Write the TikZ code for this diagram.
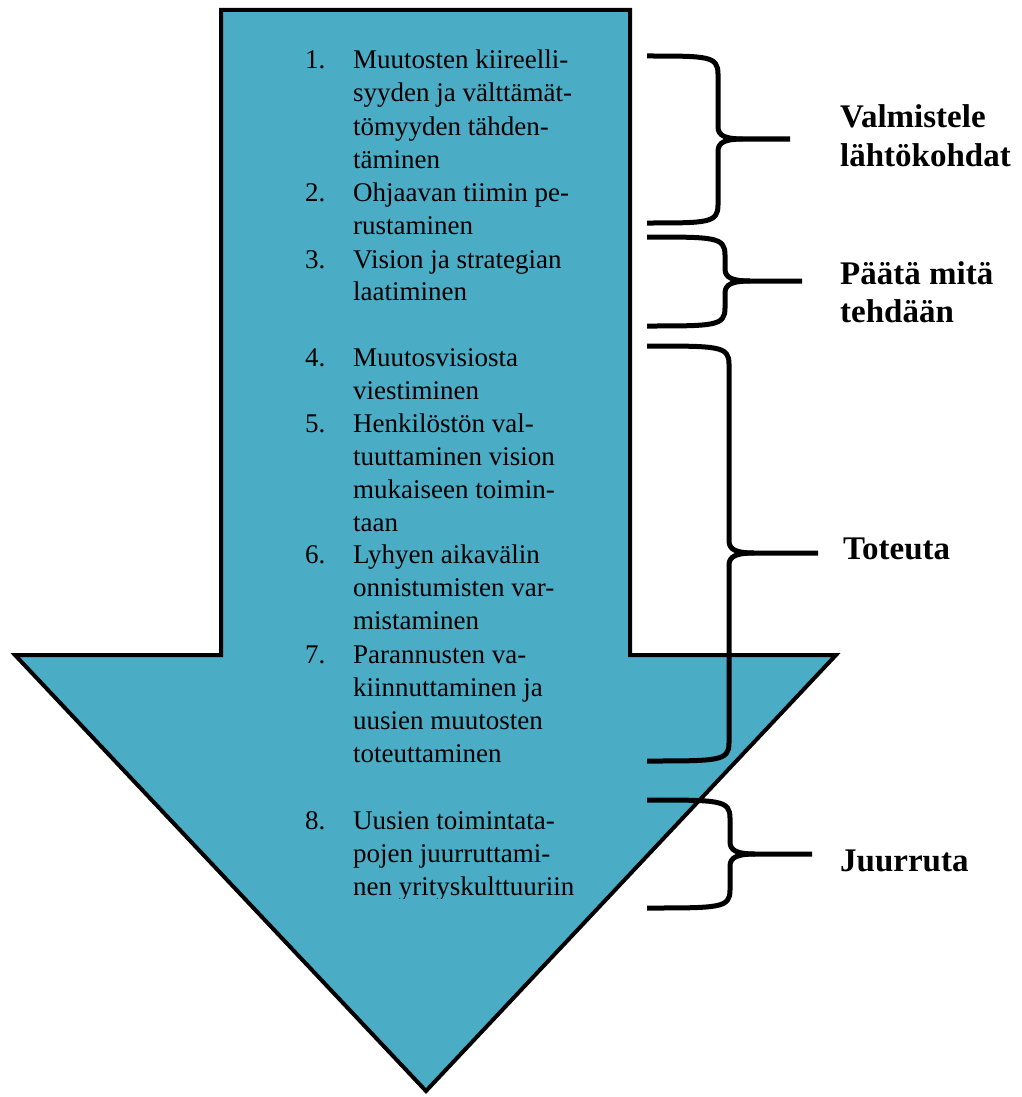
\documentclass[tikz,border=0pt]{standalone}
\usepackage{fontspec}
\setmainfont{Liberation Serif}
\definecolor{arrowfill}{HTML}{4BACC6}
\tikzset{
  bigarrow/.style={draw=black, line width=4pt, fill=arrowfill, line join=miter},
  txt/.style={anchor=base west, inner sep=0pt, font=\fontsize{27}{33}\selectfont},
  lbl/.style={anchor=base west, inner sep=0pt, font=\fontsize{33}{38}\selectfont\bfseries},
  brace/.style={draw=black, line width=5pt, line cap=butt, line join=round}
}
\begin{document}
\begin{tikzpicture}[x=1pt,y=-1pt]
\useasboundingbox (0,0) rectangle (1022,1097);
% arrow
\draw[bigarrow] (221,10) -- (630,10) -- (630,655) -- (836,655) -- (426,1091) -- (15,655) -- (221,655) -- cycle;
% numbers
\foreach \yy/\nn [count=\i] in {69/1., 201.5/2., 268/3., 366.5/4., 432.5/5., 563.5/6., 663.5/7., 829.5/8.}
  \node[txt] (n\i) at (305,\yy) {\nn};
% text lines
\foreach \yy/\tt [count=\i] in {69/Muutosten kiireelli-, 102/syyden ja välttämät-, 135.5/tömyyden tähden-, 168/täminen,
  201.5/Ohjaavan tiimin pe-, 234.5/rustaminen, 268/Vision ja strategian, 300.5/laatiminen,
  366.5/Muutosvisiosta, 399.5/viestiminen, 432.5/Henkilöstön val-, 465.5/tuuttaminen vision,
  498/mukaiseen toimin-, 531/taan, 563.5/Lyhyen aikavälin, 596.5/onnistumisten var-, 629.5/mistaminen,
  663.5/Parannusten va-, 696.5/kiinnuttaminen ja, 729.5/uusien muutosten, 762.5/toteuttaminen}
  \node[txt] (l\i) at (353,\yy) {\tt};
\begin{scope}
\clip (340,790) rectangle (640,898.5);
\foreach \yy/\tt [count=\i from 22] in {829.5/Uusien toimintata-, 862.5/pojen juurruttami-, 895.5/nen yrityskulttuuriin}
  \node[txt] (l\i) at (353,\yy) {\tt};
\end{scope}
% braces
\coordinate (b1t) at (647,56);  \coordinate (b1b) at (647,223); \coordinate (b1m) at (790,139);
\coordinate (b2t) at (647,237); \coordinate (b2b) at (647,326); \coordinate (b2m) at (802,281);
\coordinate (b3t) at (647,346); \coordinate (b3b) at (647,761); \coordinate (b3m) at (818,553);
\coordinate (b4t) at (647,800); \coordinate (b4b) at (647,908); \coordinate (b4m) at (812,854);
\foreach \b/\xv in {b1/718, b2/725, b3/729, b4/730}{
  \draw[brace] (\b t) .. controls (\xv-10,0 |- \b t) and (\xv,0 |- \b t) .. ([yshift=-18pt]\xv,0 |- \b t)
    -- ([yshift=12pt]\xv,0 |- \b m) .. controls ([yshift=3pt]\xv,0 |- \b m) and ([xshift=8pt]\xv,0 |- \b m) .. ([xshift=25pt]\xv,0 |- \b m)
    -- (\b m);
  \draw[brace] (\b b) .. controls (\xv-10,0 |- \b b) and (\xv,0 |- \b b) .. ([yshift=18pt]\xv,0 |- \b b)
    -- ([yshift=-12pt]\xv,0 |- \b m) .. controls ([yshift=-3pt]\xv,0 |- \b m) and ([xshift=8pt]\xv,0 |- \b m) .. ([xshift=25pt]\xv,0 |- \b m);
}
% labels
\node[lbl] (v1) at (840,128) {Valmistele};
\node[lbl] (v2) at (840,166) {lähtökohdat};
\node[lbl] (p1) at (840,284) {Päätä mitä};
\node[lbl] (p2) at (840,322) {tehdään};
\node[lbl] (to) at (843,559) {Toteuta};
\node[lbl] (ju) at (840,871) {Juurruta};
\end{tikzpicture}
\end{document}
